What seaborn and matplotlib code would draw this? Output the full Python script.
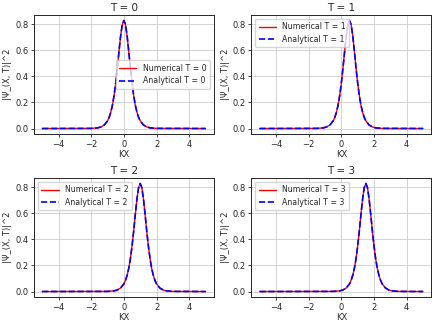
import numpy as np
import pandas as pd

import seaborn as sns
import matplotlib.pyplot as plt

# times and soliton centres
times = [0, 1, 2, 3]
centers = [0.0, 0.5, 1.0, 1.5]

# x range of the grid
x_min, x_max = -5.0, 5.0

# profile of |psi|^2 around its centre
offsets = [-2.0, -1.6, -1.4, -1.2, -1.0, -0.9, -0.8, -0.7, -0.6, -0.5,
           -0.4, -0.3, -0.2, -0.1, 0.0, 0.1, 0.2, 0.3, 0.4, 0.5, 0.6, 0.7,
           0.8, 0.9, 1.0, 1.2, 1.4, 1.6, 2.0]
profile = [0.001, 0.005, 0.012, 0.027, 0.059, 0.086, 0.125, 0.179,
           0.253, 0.349, 0.464, 0.591, 0.710, 0.798, 0.830, 0.798, 0.710,
           0.591, 0.464, 0.349, 0.253, 0.179, 0.125, 0.086, 0.059, 0.027,
           0.012, 0.005, 0.001]

legend_locs = ["center right", "upper left", "upper left", "upper left"]

sns.set_style("ticks")
plt.rcParams["font.family"] = ["DejaVu Sans"]

fig, axes = plt.subplots(2, 2, figsize=(4.36, 3.26), dpi=100)
fig.subplots_adjust(left=0.078, right=0.989, top=0.954, bottom=0.089,
                    wspace=0.21, hspace=0.37)

for ax, t, c, loc in zip(axes.flat, times, centers, legend_locs):
    x = [x_min] + [o + c for o in offsets] + [x_max]
    y = [0.0] + profile + [0.0]
    df = pd.DataFrame({"x": x, "y": y})

    sns.lineplot(data=df, x="x", y="y", ax=ax, color="red", lw=1.0,
                 label=f"Numerical T = {t}")
    sns.lineplot(data=df, x="x", y="y", ax=ax, color="blue", lw=1.2,
                 linestyle="--", label=f"Analytical T = {t}")

    ax.set_title(f"T = {t}", fontsize=7.5, pad=3)
    ax.set_xlabel("KX", fontsize=6, labelpad=1)
    ax.set_ylabel("|Ψ_(X, T)|^2", fontsize=6, labelpad=2)
    ax.set_xticks([-4, -2, 0, 2, 4])
    ax.set_yticks([0.0, 0.2, 0.4, 0.6, 0.8])
    ax.set_xlim(-5.5, 5.5)
    ax.set_ylim(-0.042, 0.872)
    ax.tick_params(labelsize=6, length=2.5, width=0.6, pad=1.5)
    ax.grid(True, color="#cccccc", lw=0.6)
    for s in ax.spines.values():
        s.set_linewidth(0.7)
    ax.legend(loc=loc, fontsize=5.6, frameon=True, handlelength=2.2,
              borderpad=0.45, labelspacing=0.45)

plt.savefig("out.png", dpi=100)
plt.close()
